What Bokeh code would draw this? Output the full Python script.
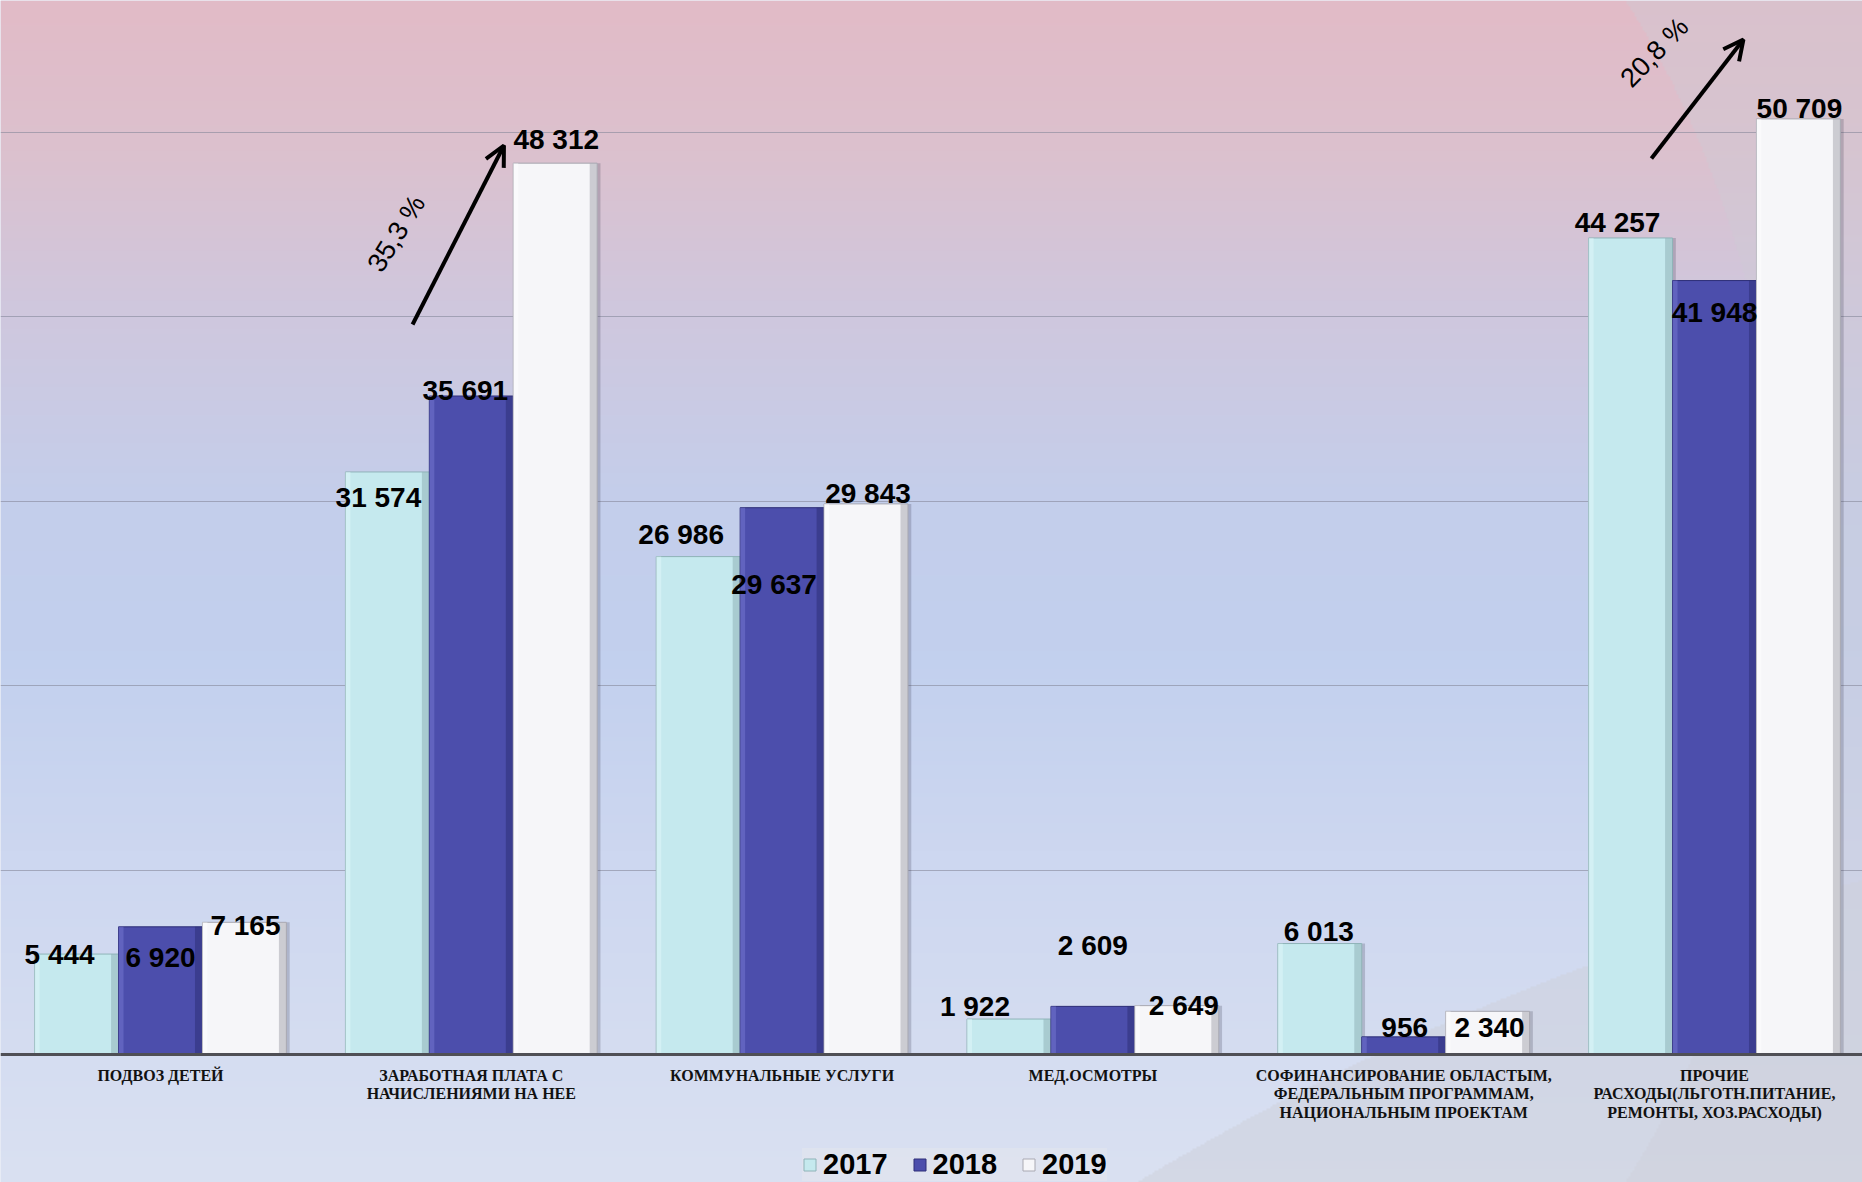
import numpy as np
from bokeh.plotting import figure
from bokeh.models import (Range1d, FixedTicker, ColumnDataSource, Arrow, OpenHead,
                          Legend, LegendItem)
from bokeh.core.properties import value
from bokeh.embed import file_html
from bokeh.resources import INLINE

# ---------------- data ----------------
categories = [
    "ПОДВОЗ ДЕТЕЙ",
    "ЗАРАБОТНАЯ ПЛАТА С\nНАЧИСЛЕНИЯМИ НА НЕЕ",
    "КОММУНАЛЬНЫЕ УСЛУГИ",
    "МЕД.ОСМОТРЫ",
    "СОФИНАНСИРОВАНИЕ ОБЛАСТЫМ,\nФЕДЕРАЛЬНЫМ ПРОГРАММАМ,\nНАЦИОНАЛЬНЫМ ПРОЕКТАМ",
    "ПРОЧИЕ\nРАСХОДЫ(ЛЬГОТН.ПИТАНИЕ,\nРЕМОНТЫ, ХОЗ.РАСХОДЫ)",
]
years = ["2017", "2018", "2019"]
v2017 = [5444, 31574, 26986, 1922, 6013, 44257]
v2018 = [6920, 35691, 29637, 2609, 956, 41948]
v2019 = [7165, 48312, 29843, 2649, 2340, 50709]
grid_ticks = [10000, 20000, 30000, 40000, 50000]
growth_text = ["35,3 %", "20,8 %"]

# ---------------- layout / style ----------------
W, H = 1862, 1182
BASE_PX = 1054            # baseline position from top of figure (px)
PPV = 0.01845             # pixels per value unit
PPC = 310.8               # pixels per category
X_SHIFT = -4.6
BAR_W = 0.27

x0, x1 = (0 + X_SHIFT) / PPC, (W + X_SHIFT) / PPC
y0, y1 = -(H - BASE_PX) / PPV, BASE_PX / PPV

p = figure(width=W, height=H, output_backend="svg", toolbar_location=None,
           x_range=Range1d(x0, x1), y_range=Range1d(y0, y1),
           min_border=0, min_border_left=0, min_border_right=0,
           min_border_top=0, min_border_bottom=0)
p.outline_line_color = None
p.border_fill_color = "#d9dff0"
p.background_fill_color = "#d9dff0"

# ---------------- background gradient image ----------------
h2, w2 = H // 2, W // 2
Yr = (np.arange(h2) + 0.5) * (H / h2)
Xr = (np.arange(w2) + 0.5) * (W / w2)
stops_y = np.array([0, 150, 300, 500, 650, 850, 1054, 1182], float)
stops_c = np.array([
    [226, 187, 199], [220, 193, 206], [208, 199, 221], [196, 206, 235],
    [194, 208, 238], [205, 215, 240], [213, 221, 241], [218, 225, 241]], float)
col = np.stack([np.interp(Yr, stops_y, stops_c[:, k]) for k in range(3)], axis=1)
img = np.repeat(col[:, None, :], w2, axis=1)
XX, YY = np.meshgrid(Xr, Yr)
# right swoosh (outside of a big ellipse)
out_ell = ((XX - 1200) / 585.0) ** 2 + ((YY - 591) / 860.0) ** 2 > 1.0
out_ell &= XX > 1200
grey1 = np.array([206, 203, 213], float)
img[out_ell] = img[out_ell] * 0.6 + grey1 * 0.4
# bottom swoosh (inside a big circle)
in_circ = (XX - 2510) ** 2 + (YY - 3461) ** 2 < 2661 ** 2
grey2 = np.array([206, 209, 220], float)
img[in_circ] = img[in_circ] * 0.45 + grey2 * 0.55
rgba = np.empty((h2, w2, 4), dtype=np.uint8)
rgba[..., :3] = np.clip(img, 0, 255).astype(np.uint8)
rgba[..., 3] = 255
rgba = rgba[::-1].copy()
bg = p.image_rgba(image=[rgba.view(np.uint32).reshape(h2, w2)],
                  x=x0, y=y0, dw=x1 - x0, dh=y1 - y0)
bg.level = "image"

# ---------------- grid / axes ----------------
p.xgrid.visible = False
p.ygrid.ticker = FixedTicker(ticks=grid_ticks)
p.ygrid.grid_line_color = "#85879a"
p.ygrid.grid_line_alpha = 0.6
p.ygrid.grid_line_width = 1
p.yaxis.visible = False

centers = [i + 0.5 for i in range(len(categories))]
ax = p.xaxis[0]
ax.ticker = FixedTicker(ticks=centers)
ax.major_label_overrides = {c: lab for c, lab in zip(centers, categories)}
ax.fixed_location = 0
ax.axis_line_color = "#4f4f55"
ax.axis_line_width = 3
ax.major_tick_line_color = None
ax.minor_tick_line_color = None
ax.major_label_standoff = 6
ax.major_label_text_font = "Liberation Serif"
ax.major_label_text_font_style = "bold"
ax.major_label_text_font_size = "16px"
ax.major_label_text_color = "#111111"
ax.major_label_text_line_height = 1.1

# ---------------- bars ----------------
series = [v2017, v2018, v2019]
fills = ["#c5e9ee", "#4c4eac", "#f6f6f9"]
edges = ["#8fb3b8", "#2e2f78", "#a9a9b2"]
tops = ["#e4f8fa", "#7c7ed6", "#ffffff"]
offsets = [-BAR_W, 0.0, BAR_W]
label_dx = [[-17, 0, 1], [-9, -6, 1], [-17, -8, 2], [-34, 0, 7], [-1, 1, 2], [-13, 0, 1]]
label_dy = [[0, 31, 3], [26, -6, -24], [-22, 77, -10], [-13, -61, 0], [-12, -9, 16], [-15, 32, -10]]

legend_items = []
for k, vals in enumerate(series):
    xs = [c + offsets[k] for c in centers]
    src = ColumnDataSource(dict(x=xs, top=vals))
    sh = ColumnDataSource(dict(x=[x + 0.016 for x in xs], top=vals))
    p.vbar(x="x", top="top", bottom=0, width=BAR_W * 0.96, source=sh,
           fill_color="#30304a", fill_alpha=0.22, line_color=None)
    r = p.vbar(x="x", top="top", bottom=0, width=BAR_W, source=src,
               fill_color=fills[k], line_color=edges[k], line_width=1)
    ed = ColumnDataSource(dict(x=[x + BAR_W / 2 - 0.012 for x in xs], top=vals))
    p.vbar(x="x", top="top", bottom=0, width=0.024, source=ed,
           fill_color=edges[k], fill_alpha=0.55, line_color=None)
    hl = ColumnDataSource(dict(x=[x - BAR_W / 2 + 0.008 for x in xs], top=vals))
    p.vbar(x="x", top="top", bottom=0, width=0.016, source=hl,
           fill_color=tops[k], fill_alpha=0.45, line_color=None)
    legend_items.append(LegendItem(label=years[k], renderers=[r]))

# ---------------- growth arrows ----------------
arrow_start = [(1.311, 39566), (5.297, 48564)]
arrow_end = [(1.605, 49268), (5.593, 55014)]
for (xs_, ys_), (xe_, ye_) in zip(arrow_start, arrow_end):
    p.add_layout(Arrow(x_start=xs_, y_start=ys_, x_end=xe_, y_end=ye_,
                       line_color="black", line_width=4,
                       end=OpenHead(size=20, line_width=4, line_color="black")))
gsrc = ColumnDataSource(dict(x=[1.259, 5.307], y=[44499, 54309], t=growth_text,
                             a=[58, 46]))
p.text(x="x", y="y", text="t", angle="a", angle_units="deg", source=gsrc,
       text_font=value("Liberation Sans"), text_font_size="27px",
       text_align="center", text_baseline="middle", text_color="black")

# ---------------- value labels ----------------
for k, vals in enumerate(series):
    xs = [c + offsets[k] for c in centers]
    txt = [f"{v:,}".replace(",", " ") for v in vals]
    lsrc = ColumnDataSource(dict(x=xs, y=vals, t=txt,
                                 dx=[d[k] for d in label_dx],
                                 dy=[d[k] for d in label_dy]))
    p.text(x="x", y="y", text="t", x_offset="dx", y_offset="dy", source=lsrc,
           text_font=value("Liberation Sans"), text_font_style="bold",
           text_font_size="28px", text_align="center", text_baseline="middle",
           text_color="black")

# ---------------- legend ----------------
legend = Legend(items=legend_items, orientation="horizontal", location=(802, 1),
                label_text_font="Liberation Sans", label_text_font_style="bold",
                label_text_font_size="29px", label_text_color="black",
                glyph_width=15, glyph_height=15, label_standoff=6, spacing=24,
                padding=4, margin=0, background_fill_color="#dfe3ee",
                background_fill_alpha=0.9, border_line_color=None)
p.add_layout(legend, "center")

open("out.html", "w").write(file_html(p, INLINE))
